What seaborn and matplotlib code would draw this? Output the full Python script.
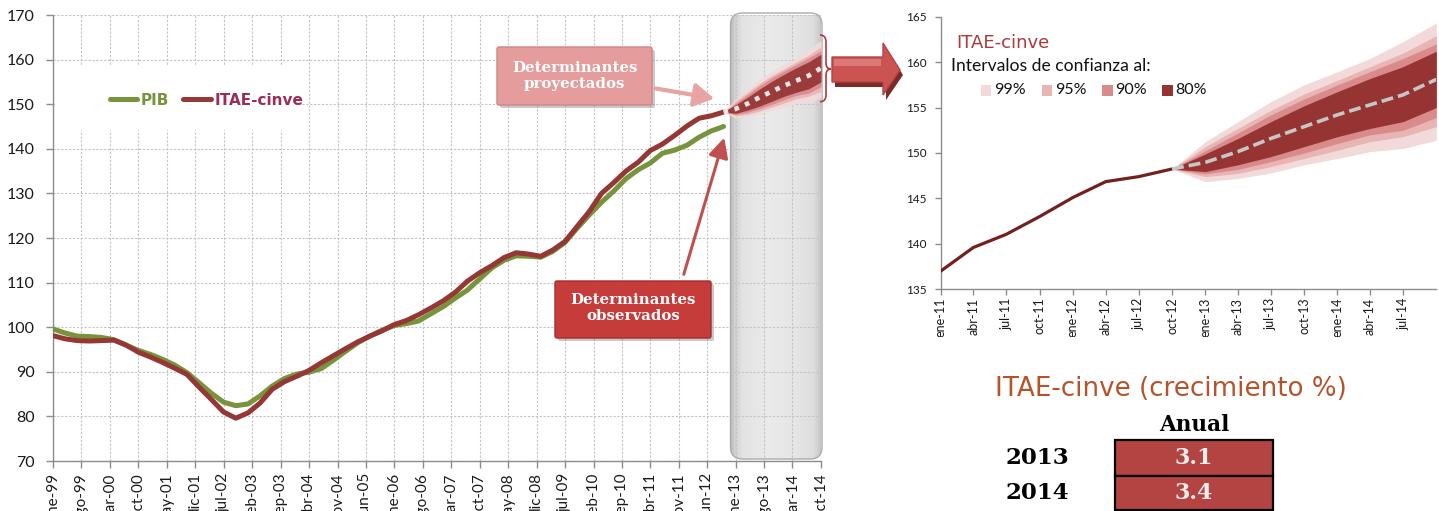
import numpy as np
import pandas as pd
import matplotlib
matplotlib.use("Agg")
import matplotlib.pyplot as plt
from matplotlib.patches import FancyBboxPatch, Rectangle, Polygon, PathPatch, FancyArrowPatch
from matplotlib.path import Path
from matplotlib.transforms import IdentityTransform, Bbox, TransformedBbox
import seaborn as sns

# ---------------- data ----------------
obs_start = "1999-01-01"          # first quarter of observed series
fc_start = "2012-10-01"           # last observed quarter = start of fan

pib = [99.6, 98.7, 98.0, 97.9, 97.7, 97.2, 96.0, 94.8, 93.9, 92.8, 91.5, 89.8,
       87.5, 85.2, 83.2, 82.4, 82.8, 84.6, 86.8, 88.5, 89.5, 89.9, 90.7, 92.6,
       94.6, 96.5, 98.0, 99.3, 100.4, 100.8, 101.4, 103.0, 104.6, 106.5, 108.3, 110.8,
       113.3, 115.0, 116.0, 115.9, 115.7, 117.0, 119.0, 122.2, 125.2, 128.0, 130.5, 133.3,
       135.3, 136.8, 139.0, 139.7, 140.8, 142.6, 144.0, 145.0]

itae = [98.1, 97.4, 97.0, 96.9, 97.0, 97.1, 96.0, 94.4, 93.3, 92.1, 90.8, 89.4,
        86.5, 83.8, 81.0, 79.6, 80.8, 83.0, 86.1, 87.8, 89.0, 90.3, 92.0, 93.6,
        95.2, 96.7, 98.0, 99.2, 100.6, 101.5, 102.8, 104.3, 105.9, 107.8, 110.3, 112.2,
        113.8, 115.6, 116.7, 116.4, 115.9, 117.3, 119.2, 122.6, 126.0, 130.0, 132.4, 135.0,
        137.0, 139.6, 141.05, 143.0, 145.1, 146.85, 147.4, 148.24]

fc_mean = [148.24, 148.97, 150.15, 151.6, 152.9, 154.2, 155.3, 156.4, 158.1]
lo99 = [148.24, 146.85, 147.2, 147.8, 148.7, 149.4, 150.15, 150.5, 151.4]
hi99 = [148.24, 151.25, 153.45, 155.65, 157.5, 158.95, 160.4, 162.25, 164.3]
lo95 = [148.24, 147.4, 147.75, 148.5, 149.4, 150.3, 151.25, 151.8, 152.9]
hi95 = [148.24, 150.7, 152.7, 154.7, 156.5, 158.0, 159.5, 161.0, 162.9]
lo90 = [148.24, 147.7, 148.2, 149.05, 150.0, 151.05, 152.0, 152.5, 153.9]
hi90 = [148.24, 150.25, 152.2, 154.2, 155.95, 157.5, 158.95, 160.4, 162.0]
lo80 = [148.24, 147.95, 148.7, 149.6, 150.7, 151.8, 152.7, 153.45, 155.0]
hi80 = [148.24, 149.9, 151.6, 153.45, 155.2, 156.75, 158.2, 159.5, 161.2]

band_labels = ["99%", "95%", "90%", "80%"]
band_lo = [lo99, lo95, lo90, lo80]
band_hi = [hi99, hi95, hi90, hi80]

left_ticklabels = ["ene-99", "ago-99", "mar-00", "oct-00", "may-01", "dic-01", "jul-02",
                   "feb-03", "sep-03", "abr-04", "nov-04", "jun-05", "ene-06", "ago-06",
                   "mar-07", "oct-07", "may-08", "dic-08", "jul-09", "feb-10", "sep-10",
                   "abr-11", "nov-11", "jun-12", "ene-13", "ago-13", "mar-14", "oct-14"]
right_ticklabels = ["ene-11", "abr-11", "jul-11", "oct-11", "ene-12", "abr-12", "jul-12",
                    "oct-12", "ene-13", "abr-13", "jul-13", "oct-13", "ene-14", "abr-14", "jul-14"]
left_yticks = [70, 80, 90, 100, 110, 120, 130, 140, 150, 160, 170]
right_yticks = [135, 140, 145, 150, 155, 160, 165]

growth_years = ["2013", "2014"]
growth_values = ["3.1", "3.4"]

# ---------------- style ----------------
GREEN = "#77933C"
RED = "#953735"
DARK = "#74201F"
BAND_COLORS = ["#F3DADA", "#E8B4B4", "#D98B8B", "#963434"]
SPINE = "#8C8C8C"

W, H, DPI = 1439, 511, 100
sns.set_theme(style="white")
plt.rcParams["font.family"] = ["Lato", "DejaVu Sans"]

fig = plt.figure(figsize=(W / DPI, H / DPI), dpi=DPI)
fig.patch.set_facecolor("white")
ID = IdentityTransform()


def fx(x):
    return x / W


def fy(y):
    return 1 - y / H


def disp(x, y):
    return (x, H - y)


# ---------------- left chart ----------------
axL = fig.add_axes([fx(53), fy(461), (821 - 53) / W, (461 - 15) / H])
qdates = pd.date_range(obs_start, periods=len(itae), freq="QS")
fdates = pd.date_range(fc_start, periods=len(fc_mean), freq="QS")
dfL = pd.DataFrame({"fecha": qdates, "PIB": pib, "ITAE-cinve": itae})

sns.lineplot(data=dfL, x="fecha", y="PIB", ax=axL, color=GREEN, lw=3.6,
             label="PIB", zorder=3)
sns.lineplot(data=dfL, x="fecha", y="ITAE-cinve", ax=axL, color=RED, lw=3.6,
             label="ITAE-cinve", zorder=3.1)

for c, lo, hi in zip(BAND_COLORS, band_lo, band_hi):
    axL.fill_between(fdates, lo, hi, color=c, lw=0, zorder=4, alpha=0.92)
dff = pd.DataFrame({"fecha": fdates, "media": fc_mean})
sns.lineplot(data=dff, x="fecha", y="media", ax=axL, color="#E4E4E4", lw=3.4, zorder=5)
axL.lines[-1].set_linestyle((0, (1.0, 1.4)))

axL.set_xlim(pd.Timestamp("1999-01-01"), pd.Timestamp("2014-10-01"))
axL.set_ylim(70, 170)
axL.set_xticks(pd.date_range("1999-01-01", periods=len(left_ticklabels), freq="7MS"))
axL.set_xticklabels(left_ticklabels, rotation=90)
axL.set_yticks(left_yticks)
axL.set_xlabel("")
axL.set_ylabel("")
axL.set_axisbelow(True)
axL.grid(True, color="#C4C4C4", ls=(0, (2, 1.5)), lw=0.8)
for s in ["top", "right"]:
    axL.spines[s].set_visible(False)
for s in ["left", "bottom"]:
    axL.spines[s].set_color(SPINE)
    axL.spines[s].set_linewidth(1.0)
axL.tick_params(axis="both", direction="out", length=5, width=1, color=SPINE,
                bottom=True, left=True, labelcolor="#1A1A1A")
axL.tick_params(axis="y", labelsize=11.5, pad=8)
axL.tick_params(axis="x", labelsize=11, pad=3.5)

# legend
handles, labels = axL.get_legend_handles_labels()
lg = axL.legend(handles, labels, loc="center", bbox_to_anchor=(0.2, 0.809), ncol=2,
                frameon=False, handlelength=1.8, handletextpad=0.25, columnspacing=0.9,
                prop=dict(weight="bold", size=11, family="DejaVu Sans"))
lg.get_texts()[0].set_color(GREEN)
lg.get_texts()[1].set_color("#9B2D5A")
axL.add_artist(Rectangle(disp(55, 130), 245, 65, transform=ID, fc="white", ec="none",
                         zorder=1))

# glass highlight (drawn beneath the grid, which shows through it)
gx0, gx1, gy0, gy1 = 730.5, 822, 13, 459
glass = FancyBboxPatch(disp(gx0, gy1), gx1 - gx0, gy1 - gy0,
                       boxstyle="round,pad=0,rounding_size=12", transform=ID,
                       fc="none", ec="#ABABAB", lw=1.0, zorder=1.3, clip_on=False)
inv = axL.transData.inverted()
(dx0, dy0), (dx1, dy1) = inv.transform([disp(gx0, gy1), disp(gx1, gy0)])
stops = [0.0, 0.04, 0.12, 0.4, 0.7, 0.9, 0.97, 1.0]
grays = [0.74, 0.82, 0.89, 0.92, 0.90, 0.87, 0.79, 0.72]
xs = np.linspace(0, 1, 256)
g = np.interp(xs, stops, grays)
grad = np.stack([g, g, g], axis=-1)[np.newaxis, :, :].repeat(2, axis=0)
im = axL.imshow(grad, extent=[dx0, dx1, dy0, dy1], aspect="auto", zorder=0.3,
                interpolation="bilinear")
im.set_clip_path(glass)
im.set_clip_on(True)
axL.add_artist(glass)
axL.set_xlim(pd.Timestamp("1999-01-01"), pd.Timestamp("2014-10-01"))
axL.set_ylim(70, 170)

# ---------------- right chart ----------------
axR = fig.add_axes([fx(940.7), fy(289.3), (1436.3 - 940.7) / W, (289.3 - 16.7) / H])
dfR = pd.DataFrame({"fecha": qdates[-8:], "ITAE-cinve": itae[-8:]})
for c, lo, hi in zip(BAND_COLORS, band_lo, band_hi):
    axR.fill_between(fdates, lo, hi, color=c, lw=0, zorder=2)
sns.lineplot(data=dfR, x="fecha", y="ITAE-cinve", ax=axR, color=DARK, lw=2.3, zorder=3)
sns.lineplot(data=dff, x="fecha", y="media", ax=axR, color="#C6C6C6", lw=2.6, zorder=4)
axR.lines[-1].set_linestyle((0, (3.3, 1.4)))

axR.set_xlim(pd.Timestamp("2011-01-01"), pd.Timestamp("2014-10-01"))
axR.set_ylim(135, 165)
axR.set_xticks(pd.date_range("2011-01-01", periods=len(right_ticklabels), freq="QS"))
axR.set_xticklabels(right_ticklabels, rotation=90)
axR.set_yticks(right_yticks)
axR.set_xlabel("")
axR.set_ylabel("")
for s in ["top", "right"]:
    axR.spines[s].set_visible(False)
for s in ["left", "bottom"]:
    axR.spines[s].set_color(SPINE)
    axR.spines[s].set_linewidth(1.0)
axR.tick_params(axis="both", direction="out", length=4, width=1, color=SPINE,
                bottom=True, left=True, labelcolor="#1A1A1A")
axR.tick_params(axis="y", labelsize=8.5, pad=6)
axR.tick_params(axis="x", labelsize=9, pad=2)
clipbox = TransformedBbox(Bbox([[0, H - 337], [W, H]]), ID)
for lbl in axR.get_xticklabels():
    lbl.set_clip_on(True)
    lbl.set_clip_box(clipbox)

# right legend
fig.text(fx(956), fy(42.5), "ITAE-cinve", ha="left", va="center", fontsize=13,
         family="DejaVu Sans", color="#A83A3A")
fig.text(fx(951), fy(66), "Intervalos de confianza al:", ha="left", va="center",
         fontsize=12.6, color="#111111")
sq_x = [980.6, 1041.5, 1102.0, 1162.0]
for x0, c, t in zip(sq_x, BAND_COLORS, band_labels):
    fig.add_artist(Rectangle(disp(x0, 96), 10.5, 11, transform=ID, fc=c, ec="none"))
    fig.text(fx(x0 + 13.5), fy(90.5), t, ha="left", va="center", fontsize=11.5,
             color="#111111")

# ---------------- annotations ----------------
SERIF = dict(family="DejaVu Serif", weight="bold")


def box(x0, y0, x1, y1, fc, ec):
    fig.add_artist(FancyBboxPatch(disp(x0 + 3, y1 + 3), x1 - x0, y1 - y0,
                                  boxstyle="round,pad=0,rounding_size=2", transform=ID,
                                  fc="#8A8A8A", ec="none", alpha=0.45))
    fig.add_artist(FancyBboxPatch(disp(x0, y1), x1 - x0, y1 - y0,
                                  boxstyle="round,pad=0,rounding_size=2", transform=ID,
                                  fc=fc, ec=ec, lw=1.0))


box(497, 47, 652, 105, "#E49C9C", "#D08585")
fig.text(fx(574.5), fy(76), "Determinantes\nproyectados", ha="center", va="center",
         fontsize=10.8, color="white", linespacing=1.25, **SERIF)
fig.add_artist(FancyArrowPatch(disp(653, 88), disp(717, 99), transform=ID,
                               arrowstyle="-|>,head_length=0.6,head_width=0.35",
                               mutation_scale=20, color="#E8A3A3", lw=3.0))

box(555, 281, 711, 338, "#C63C3B", "#A82A2A")
fig.text(fx(633), fy(308), "Determinantes\nobservados", ha="center", va="center",
         fontsize=10.8, color="white", linespacing=1.25, **SERIF)
fig.add_artist(FancyArrowPatch(disp(683, 277), disp(725, 135), transform=ID,
                               arrowstyle="-|>,head_length=0.6,head_width=0.3",
                               mutation_scale=20, color="#C0504D", lw=2.2))

# big block arrow
arrow_pts = [(832, 57), (883, 57), (883, 43), (900, 70), (883, 95), (883, 82), (832, 82)]
fig.add_artist(Polygon([disp(x + 3, y + 5) for x, y in arrow_pts], closed=True,
                       transform=ID, fc="#7B2A28", ec="none"))
fig.add_artist(Polygon([disp(x, y) for x, y in arrow_pts], closed=True,
                       transform=ID, fc="#CB5351", ec="#B24343", lw=1.0))
fig.add_artist(Polygon([disp(x, y) for x, y in [(834, 59), (881, 59), (881, 66), (834, 66)]],
                       closed=True, transform=ID, fc="#E69393", ec="none", alpha=0.6))

# curly brace
bx = [(820, 35), (826, 35), (826, 42), (826, 63), (826, 69), (831, 69),
      (826, 69), (826, 75), (826, 95), (826, 101.7), (820, 101.7)]
codes = [Path.MOVETO, Path.CURVE3, Path.CURVE3, Path.LINETO, Path.CURVE3, Path.CURVE3,
         Path.CURVE3, Path.CURVE3, Path.LINETO, Path.CURVE3, Path.CURVE3]
fig.add_artist(PathPatch(Path([disp(x, y) for x, y in bx], codes), transform=ID,
                         fc="none", ec="#B03A3A", lw=1.2))

# ---------------- growth table ----------------
fig.text(fx(1171), fy(389), "ITAE-cinve (crecimiento %)", ha="center", va="center",
         fontsize=18.8, family="DejaVu Sans", color="#B5532B")
fig.text(fx(1194), fy(425), "Anual", ha="center", va="center", fontsize=15.5,
         color="black", **SERIF)
rows_y = [(440, 475.7), (475.7, 510)]
for (y0, y1), yr, val in zip(rows_y, growth_years, growth_values):
    fig.add_artist(Rectangle(disp(1115, y1), 1272.7 - 1115, y1 - y0, transform=ID,
                             fc="#B44441", ec="black", lw=1.6))
    fig.text(fx(1037.5), fy((y0 + y1) / 2), yr, ha="center", va="center",
             fontsize=16.5, color="black", **SERIF)
    fig.text(fx(1194), fy((y0 + y1) / 2), val, ha="center", va="center",
             fontsize=16, color="#F5ECEC", **SERIF)

fig.savefig("out.png", dpi=DPI, facecolor="white")
